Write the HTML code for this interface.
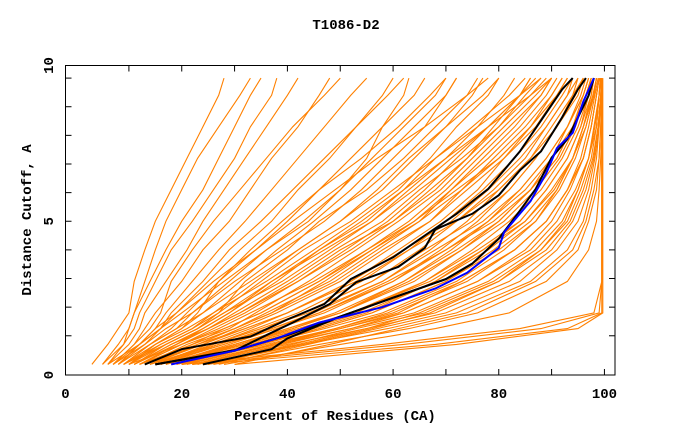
<!DOCTYPE html>
<html><head><meta charset="utf-8"><style>
html,body{margin:0;padding:0;background:#fff}
svg{display:block}
text{font-family:"Liberation Mono",monospace;font-weight:bold;font-size:14px;fill:#000}
</style></head><body>
<svg id="chart" width="680" height="440" viewBox="0 0 680 440">
<rect x="0" y="0" width="680" height="440" fill="#fff"/>
<text x="346" y="29" text-anchor="middle">T1086-D2</text>
<text x="335" y="420" text-anchor="middle">Percent of Residues (CA)</text>
<text transform="translate(31,220) rotate(-90)" text-anchor="middle">Distance Cutoff, A</text>
<g id="plot"></g>
<g id="axes"></g>
</svg>
<script>
const cutLevels=[0,0.7,1.25,1.8,2.9,4,5,6.1,7.2,8.3,9.4,10];
const orangeCurves=[
[3,6,8,10,11,13,15,18,21,24,27,28],
[5,8,10,11,13,15,17,20,23,27,31,33],
[5,9,10,11,14,17,20,24,27,30,33,35],
[6,10,12,13,17,21,24,28,32,36,40,42],
[7,11,13,15,20,24,29,33,37,42,46,48],
[8,12,15,17,22,27,32,37,42,47,52,55],
[8,13,16,19,25,31,37,42,48,53,58,60],
[9,14,18,21,27,34,40,46,52,58,64,66],
[10,15,20,24,31,38,45,52,58,64,70,72],
[10,16,22,26,34,42,50,57,63,70,77,80],
[11,18,24,29,38,46,54,62,68,75,82,85],
[12,20,26,32,42,51,59,66,72,78,84,87],
[12,22,28,35,46,55,63,70,76,82,88,90],
[13,24,31,38,50,59,67,73,79,85,90,92],
[14,26,34,42,54,63,70,77,83,88,92,94],
[15,28,37,45,58,67,74,80,86,90,94,96],
[16,30,40,49,62,71,78,84,89,93,96,97],
[17,32,43,52,66,75,82,88,92,95,97,98],
[18,34,46,56,70,79,86,91,94,96,98,98.5],
[19,36,49,60,74,83,89,93,96,97.5,98.5,99],
[20,38,52,64,78,87,92,95,97,98,99,99.3],
[22,40,55,68,82,90,94,96.5,98,98.8,99.3,99.5],
[24,43,59,72,86,93,96,97.5,98.5,99,99.4,99.5],
[26,46,63,76,89,95,97,98.5,99,99.3,99.5,99.5],
[28,50,68,82,93,97,98.5,99,99.3,99.5,99.5,99.5],
[9,17,23,28,37,47,56,64,71,78,84,86],
[11,19,25,30,40,49,58,65,73,80,86,89],
[13,21,29,34,44,53,61,69,75,81,87,90],
[14,23,30,36,48,57,65,71,78,84,89,91],
[15,25,33,40,52,61,69,76,81,87,91,93],
[16,27,36,43,56,65,72,79,85,89,93,95],
[17,29,38,47,60,69,76,82,87,91,95,96],
[18,31,41,50,64,73,80,86,90,94,96,97],
[19,33,44,54,68,77,84,89,93,95.5,97,97.5],
[21,35,47,58,72,81,87,91,94,96.5,98,98.5],
[23,37,50,62,76,85,90,93.5,96,97.5,98.5,99],
[25,41,53,66,80,88,92.5,95,97,98.5,99,99.2],
[27,44,57,70,84,91,95,97,98.2,99,99.3,99.4],
[30,48,61,74,87,94,96.5,98,99,99.3,99.5,99.5],
[6,9,11,12,15,18,22,26,30,33,37,38],
[7,11,14,16,18,22,26,31,36,41,47,50],
[8,12,16,18,24,29,35,41,47,53,59,62],
[9,14,19,22,29,36,43,50,56,62,68,70],
[10,15,20,23,27,33,39,46,54,61,67,70],
[11,17,23,27,32,40,46,55,62,68,74,76],
[12,19,25,31,41,50,60,68,74,80,85,88],
[14,22,30,37,47,56,64,72,80,86,91,93],
[16,26,35,44,58,68,77,84,89,93,96,97],
[18,30,40,50,62,72,80,86,91,94,96.5,97.5],
[20,34,45,55,68,78,85,90,94,96,97.5,98],
[22,38,50,61,73,83,89,93,95.5,97,98.2,98.8],
[24,42,55,65,79,88,93,95.5,97.5,98.5,99,99.2],
[6,12,16,20,28,36,44,50,55,58,62,63],
[7,13,17,22,30,39,47,54,60,66,70,72],
[8,14,19,24,33,42,50,58,64,70,75,77],
[9,15,21,26,36,45,53,61,67,72,78,80],
[10,17,23,28,39,48,56,63,70,76,81,83],
[11,18,25,31,42,52,60,67,74,79,84,86],
[12,20,27,33,45,55,64,71,77,83,88,90],
[13,22,30,37,49,58,67,74,81,86,90,92],
[14,24,32,40,52,62,71,78,84,89,93,94],
[15,26,35,43,56,66,75,82,87,91,94,95],
[16,28,38,46,59,70,78,85,90,93,95.5,96.5],
[17,30,41,50,63,73,81,87,91.5,94.5,96.5,97.5],
[18,32,43,53,66,76,84,89,93,95.5,97.5,98],
[19,35,46,56,70,80,87,91.5,94.5,96.5,98,98.5],
[21,37,49,59,73,83,89,93,96,97.5,98.5,99],
[23,39,52,62,76,86,91,94.5,97,98.2,99,99.3],
[25,43,56,67,80,89,93.5,96,97.8,98.8,99.3,99.5],
[10,20,28,35,46,56,65,73,80,86,91,93],
[12,23,32,40,53,63,72,80,86,91,94.5,96],
[14,27,37,46,60,70,79,86,91,94,96.5,97.5],
[16,31,42,52,67,77,85,90.5,94,96,97.8,98.5],
[9,16,22,27,35,43,52,60,68,76,84,88],
[11,19,24,29,37,46,55,62,70,78,86,90],
[7,12,15,19,26,34,41,49,57,66,74,78],
[24,68,93,99.5,99.5,99.5,99.5,99.5,99.5,99.5,99.5,99.5],
[22,62,88,99,99.5,99.5,99.5,99.5,99.5,99.5,99.5,99.5],
[30,72,95,99.7,99.7,99.7,99.7,99.7,99.7,99.7,99.7,99.7],
[20,58,84,98,99.5,99.5,99.5,99.5,99.5,99.5,99.5,99.5]
];
const k1Pct=[13,20,33,40,47,52,60,66,72,78,84,88,92,94];
const k1Cut=[0,0.53,0.97,1.57,2.11,2.98,3.74,4.5,5.26,6.13,7.44,8.52,9.61,10];
const k2Pct=[15,30,36,41,48,53,61,66,68,75,80,84,88,92,95,96.5];
const k2Cut=[0,0.48,1.02,1.46,2.11,2.87,3.41,4.07,4.72,5.26,5.91,6.78,7.44,8.63,9.61,10];
const k3Pct=[24,37,40,50,60,70,75,80,84,87,90,93,95,97,98];
const k3Cut=[0,0.53,0.91,1.67,2.33,2.98,3.52,4.39,5.37,6.13,7.22,7.87,8.63,9.39,10];
const k4Pct=[15,31,40,50,60,70,75];
const k4Cut=[0,0.53,1.02,1.67,2.33,2.98,3.52];
const bluePct=[18,30,38,46,58,68,74,80,81,86,89,91,94,96,98];
const blueCut=[0,0.48,0.91,1.46,2.0,2.65,3.2,4.07,4.61,5.7,6.68,7.55,8.09,9.18,10];
const xTicks=[0,20,40,60,80,100];
const yTicks=[0,5,10];

const L=65.5,R=615,T=65.5,B=375;
const xMin=-2,xMax=102,yMin=-0.37,yMax=10.44;
function xs(v){return L+(v-xMin)/(xMax-xMin)*(R-L);}
function ys(v){return B-(v-yMin)/(yMax-yMin)*(B-T);}
const NS="http://www.w3.org/2000/svg";
const plot=document.getElementById('plot');
const axes=document.getElementById('axes');
function poly(px,cy,color,w,name){
  const p=document.createElementNS(NS,'polyline');
  p.setAttribute('points',px.map((v,i)=>xs(v).toFixed(1)+','+ys(cy[i]).toFixed(1)).join(' '));
  p.setAttribute('fill','none');
  p.setAttribute('stroke',color);
  p.setAttribute('stroke-width',w);
  
  
  plot.appendChild(p);
}
orangeCurves.forEach((c,i)=>poly(c,cutLevels,'#ff8000',1.1,'model-curve-'+i));
poly(k1Pct,k1Cut,'#000',2,'black-curve-1');
poly(k2Pct,k2Cut,'#000',2,'black-curve-2');
poly(k3Pct,k3Cut,'#000',2,'black-curve-3');
poly(k4Pct,k4Cut,'#000',2,'black-curve-4');
poly(bluePct,blueCut,'#0000ff',2,'blue-curve');

function line(x1,y1,x2,y2,name){
  const l=document.createElementNS(NS,'line');
  l.setAttribute('x1',x1);
  l.setAttribute('y1',y1);
  l.setAttribute('x2',x2);
  l.setAttribute('y2',y2);
  l.setAttribute('stroke','#000');
  l.setAttribute('stroke-width',1);
  
  
  axes.appendChild(l);
}
const fr=document.createElementNS(NS,'rect');
fr.setAttribute('x',L);
fr.setAttribute('y',T);
fr.setAttribute('width',R-L);
fr.setAttribute('height',B-T);
fr.setAttribute('fill','none');
fr.setAttribute('stroke','#000');


axes.appendChild(fr);
for(let v=10;v<=100;v+=10){const x=xs(v);line(x,B,x,B-6,'x-tick');line(x,T,x,T+6,'x-tick-top');}
for(let v=1;v<=10;v++){const y=ys(v);line(L,y,L+6,y,'y-tick');line(R,y,R-6,y,'y-tick-right');}
function txt(s,x,y,anchor,rot,name){
  const t=document.createElementNS(NS,'text');
  t.textContent=s;
  t.setAttribute('text-anchor',anchor);
  if(rot){t.setAttribute('transform','translate('+x+','+y+') rotate(-90)');}
  else{t.setAttribute('x',x);t.setAttribute('y',y);}
  
  
  axes.appendChild(t);
}
xTicks.forEach(v=>{const x=v===0?L:xs(v);txt(String(v),x,398,'middle',false,'x-tick-label');});
yTicks.forEach(v=>{const y=v===0?B:(v===10?T:ys(v));txt(String(v),53,y,'middle',true,'y-tick-label');});
</script>
</body></html>
